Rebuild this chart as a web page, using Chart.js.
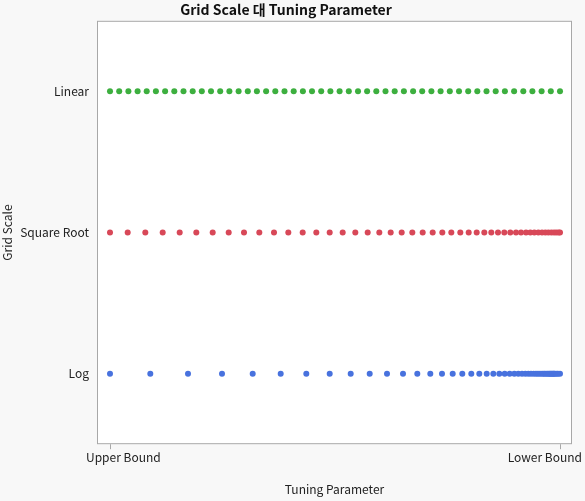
<!DOCTYPE html>
<html>
<head>
<meta charset="utf-8">
<script src="https://cdn.jsdelivr.net/npm/chart.js@4/dist/chart.umd.min.js"></script>
<style>
  html, body { margin: 0; padding: 0; background: #f8f8f8; }
  #wrap { width: 585px; height: 501px; }
</style>
</head>
<body>
<div id="wrap"><canvas id="chart"></canvas></div>
<script>
// Grid scale categories (y) and tuning parameter positions (x, 0 = Upper Bound, 450 = Lower Bound)
const gridScales = ['Log', 'Square Root', 'Linear'];
const xTickLabels = ['Upper Bound', 'Lower Bound'];
const xTickValues = [0, 450];

const linearX = [0, 9.2, 18.4, 27.6, 36.7, 45.9, 55.1, 64.3, 73.5, 82.7, 91.8, 101, 110.2, 119.4, 128.6,
    137.8, 146.9, 156.1, 165.3, 174.5, 183.7, 192.9, 202, 211.2, 220.4, 229.6, 238.8, 248, 257.1, 266.3,
    275.5, 284.7, 293.9, 303.1, 312.2, 321.4, 330.6, 339.8, 349, 358.2, 367.3, 376.5, 385.7, 394.9, 404.1,
    413.3, 422.4, 431.6, 440.8, 450];
const sqrtX = [0, 17.7, 35.3, 52.7, 69.7, 86.3, 102.7, 118.7, 134, 149.3, 164, 178.3, 192.7, 206.3, 219.7,
    232.7, 245.3, 257.7, 269.3, 280.7, 291.7, 302.3, 312.7, 322.7, 332.3, 341.3, 350.3, 358.7, 366.7, 374.3,
    381.3, 388, 394.3, 400.3, 406, 411, 416, 420.3, 424.3, 428.3, 432, 435.3, 438.3, 441.3, 444, 446.3,
    448.7, 450];
const logX = [0, 40.3, 78, 112, 142.7, 170.7, 196.3, 219.7, 240.7, 259.7, 277, 293, 307.3, 320.3, 332,
    342.7, 352.3, 361.3, 369.3, 376.7, 383.3, 389.3, 394.7, 399.7, 404.3, 408.3, 412, 415.3, 418.3, 421,
    423.7, 426, 428, 430, 432, 433.7, 435, 436.7, 438, 439.3, 440.3, 441.3, 442.3, 443.3, 444, 445,
    446.7, 448, 450];

const colors = { 'Linear': '#3daf3f', 'Square Root': '#d84858', 'Log': '#4872de' };
const fontFamily = '"Noto Sans CJK KR", "Noto Sans", sans-serif';

function toPoints(xs, scaleName) {
    const y = gridScales.indexOf(scaleName);
    return xs.map(x => ({ x: x, y: y }));
}

// plot area background, frame, tick marks and x tick labels kept inside the frame
const plotDecor = {
    id: 'plotDecor',
    beforeDraw(chart) {
        const { ctx, chartArea: a } = chart;
        ctx.save();
        ctx.fillStyle = '#ffffff';
        ctx.fillRect(a.left, a.top, a.right - a.left, a.bottom - a.top);
        ctx.restore();
    },
    afterDraw(chart) {
        const { ctx, chartArea: a } = chart;
        const xs = chart.scales.x;
        ctx.save();
        ctx.strokeStyle = '#a8a8a8';
        ctx.lineWidth = 1;
        ctx.strokeRect(a.left + 0.5, a.top + 0.5, a.right - a.left - 1, a.bottom - a.top - 1);
        xTickValues.forEach(v => {
            const px = Math.round(xs.getPixelForValue(v)) + 0.5;
            ctx.beginPath();
            ctx.moveTo(px, a.bottom);
            ctx.lineTo(px, a.bottom + 5);
            ctx.stroke();
        });
        ctx.font = '12px ' + fontFamily;
        ctx.fillStyle = '#222';
        ctx.textBaseline = 'top';
        ctx.textAlign = 'left';
        ctx.fillText(xTickLabels[0], 86, a.bottom + 7);
        ctx.textAlign = 'right';
        ctx.fillText(xTickLabels[1], 582, a.bottom + 7);
        ctx.restore();
    }
};

new Chart(document.getElementById('chart'), {
    type: 'scatter',
    data: {
        datasets: [
            { label: 'Linear', data: toPoints(linearX, 'Linear') },
            { label: 'Square Root', data: toPoints(sqrtX, 'Square Root') },
            { label: 'Log', data: toPoints(logX, 'Log') }
        ].map(ds => Object.assign(ds, {
            backgroundColor: colors[ds.label],
            borderColor: colors[ds.label],
            pointRadius: 3,
            pointBorderWidth: 0
        }))
    },
    options: {
        responsive: true,
        maintainAspectRatio: false,
        animation: false,
        layout: { padding: { left: 0, right: 13, top: 0, bottom: 4 } },
        plugins: {
            legend: { display: false },
            tooltip: { enabled: false },
            title: {
                display: true,
                text: 'Grid Scale 대 Tuning Parameter',
                color: '#111',
                font: { family: fontFamily, size: 14, weight: 'bold' },
                padding: { top: 1, bottom: 3 }
            }
        },
        scales: {
            x: {
                type: 'linear',
                min: -13,
                max: 462,
                afterBuildTicks: axis => { axis.ticks = xTickValues.map(v => ({ value: v })); },
                grid: { display: false },
                border: { display: false },
                ticks: { color: 'rgba(0,0,0,0)', font: { family: fontFamily, size: 12 }, padding: 8 },
                title: {
                    display: true,
                    text: 'Tuning Parameter',
                    color: '#222',
                    font: { family: fontFamily, size: 12 },
                    padding: { top: 0, bottom: 0 }
                }
            },
            y: {
                type: 'linear',
                min: -0.5,
                max: 2.5,
                afterBuildTicks: axis => { axis.ticks = gridScales.map((_, i) => ({ value: i })); },
                afterFit: axis => { axis.width = 97; },
                grid: { display: false },
                border: { display: false },
                ticks: {
                    color: '#222',
                    font: { family: fontFamily, size: 12 },
                    padding: 0,
                    callback: v => gridScales[v]
                },
                title: {
                    display: true,
                    text: 'Grid Scale',
                    color: '#222',
                    font: { family: fontFamily, size: 12 },
                    padding: { top: 0, bottom: 0 }
                }
            }
        }
    },
    plugins: [plotDecor]
});
</script>
</body>
</html>
